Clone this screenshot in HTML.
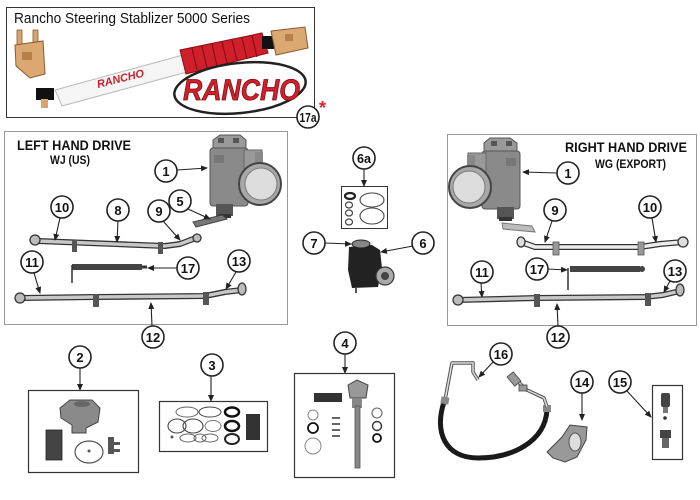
<!DOCTYPE html>
<html><head><meta charset="utf-8"><style>
html,body{margin:0;padding:0;background:#fff;}
svg{display:block;}
text{font-family:"Liberation Sans",Arial,sans-serif;}
.c{fill:#fff;stroke:#222;stroke-width:1.6;}
.n{font-weight:bold;font-size:13px;text-anchor:middle;fill:#111;}
.ar{stroke:#222;stroke-width:1.1;fill:none;marker-end:url(#a);}
.ro{stroke:#333;stroke-width:6;fill:none;stroke-linecap:round;stroke-linejoin:round;}
.ri{stroke:#c8c8c8;stroke-width:3.4;fill:none;stroke-linecap:round;stroke-linejoin:round;}
.riw{stroke:#ececec;stroke-width:3.6;fill:none;stroke-linecap:round;stroke-linejoin:round;}
</style></head><body>
<svg width="700" height="500" viewBox="0 0 700 500" xmlns="http://www.w3.org/2000/svg">
<defs>
<marker id="a" markerWidth="7" markerHeight="6" refX="6" refY="3" orient="auto" markerUnits="userSpaceOnUse"><path d="M0,0 L7,3 L0,6z" fill="#222"/></marker>
<g id="gear">
  <path d="M213,140 L220,135 L240,135 L246,140 L246,150 L213,150z" fill="#9a9a9a" stroke="#555" stroke-width="1"/>
  <rect x="210" y="148" width="38" height="58" rx="3" fill="#8a8a8a" stroke="#555" stroke-width="1"/>
  <rect x="244" y="150" width="18" height="48" fill="#999" stroke="#666" stroke-width="1"/>
  <rect x="255" y="152" width="8" height="14" fill="#888"/>
  <circle cx="260" cy="184" r="21" fill="#a8a8a8" stroke="#444" stroke-width="2"/>
  <circle cx="261" cy="184" r="16" fill="#dcdcdc" stroke="#777" stroke-width="1"/>
  <rect x="216" y="204" width="17" height="12" fill="#555"/>
  <rect x="218" y="214" width="13" height="4" fill="#333"/>
  <rect x="218" y="138" width="6" height="5" fill="#555"/>
  <rect x="233" y="138" width="6" height="5" fill="#555"/>
  <rect x="214" y="155" width="10" height="8" fill="#777"/>
</g>
</defs>

<!-- Top Rancho box -->
<rect x="6.5" y="7.5" width="308" height="110" fill="#fff" stroke="#333" stroke-width="1"/>
<text x="14" y="23" font-size="15" textLength="236" lengthAdjust="spacingAndGlyphs" fill="#111">Rancho Steering Stablizer 5000 Series</text>
<!-- left bracket -->
<rect x="17" y="30" width="5" height="16" fill="#d9a46c" stroke="#8a5a30" stroke-width="0.8"/>
<rect x="33" y="30" width="5" height="16" fill="#d9a46c" stroke="#8a5a30" stroke-width="0.8"/>
<path d="M15,45 L43,41 L45,74 L30,78 L16,66z" fill="#dba872" stroke="#8a5a30" stroke-width="1"/>
<rect x="22" y="52" width="10" height="8" fill="#b77f4a"/>
<!-- left bushing -->
<rect x="36" y="88" width="18" height="12" fill="#111"/>
<rect x="41" y="99" width="7" height="9" fill="#d9a46c"/>
<!-- white body -->
<path d="M55,90 L183,55 L187,72 L62,106z" fill="#f5f5f5" stroke="#bbb" stroke-width="1"/>
<text x="98" y="88" font-size="11" font-weight="bold" font-style="italic" fill="#cc1f2a" transform="rotate(-14 98 88)" textLength="48" lengthAdjust="spacingAndGlyphs">RANCHO</text>
<!-- red boot -->
<path d="M180,50 L262,33 L268,53 L186,74z" fill="#cf1f2b" stroke="#8c0c14" stroke-width="1"/>
<g stroke="#8c0c14" stroke-width="1.2">
<line x1="192" y1="48" x2="197" y2="70"/><line x1="202" y1="46" x2="207" y2="68"/><line x1="212" y1="44" x2="217" y2="66"/><line x1="222" y1="42" x2="227" y2="63"/><line x1="232" y1="40" x2="237" y2="61"/><line x1="242" y1="38" x2="247" y2="59"/><line x1="252" y1="36" x2="257" y2="57"/>
</g>
<rect x="262" y="36" width="12" height="13" fill="#111"/>
<path d="M271,31 L305,27 L308,48 L276,55z" fill="#dba872" stroke="#8a5a30" stroke-width="1"/>
<rect x="285" y="34" width="8" height="7" fill="#b77f4a"/>
<!-- logo -->
<ellipse cx="240" cy="88" rx="66" ry="25" fill="none" stroke="#222" stroke-width="2.5" transform="rotate(-6 240 88)"/>
<text x="183" y="100" font-size="30" font-weight="bold" font-style="italic" fill="#d0202c" stroke="#7a0a10" stroke-width="0.8" textLength="117" lengthAdjust="spacingAndGlyphs">RANCHO</text>
<circle class="c" cx="308" cy="117" r="11"/>
<text class="n" x="308" y="122" font-size="12" textLength="17" lengthAdjust="spacingAndGlyphs">17a</text>
<text x="319" y="114" font-size="18" font-weight="bold" fill="#e0202a">*</text>

<!-- Left hand drive box -->
<rect x="4.5" y="131.5" width="283" height="193" fill="none" stroke="#999" stroke-width="1"/>
<text x="17" y="150" font-size="13.5" font-weight="bold" textLength="114" lengthAdjust="spacingAndGlyphs" fill="#111">LEFT HAND DRIVE</text>
<text x="50" y="164" font-size="12" font-weight="bold" textLength="40" lengthAdjust="spacingAndGlyphs" fill="#111">WJ (US)</text>
<use href="#gear"/>
<!-- pitman arm 5 -->
<path d="M193,222 L222,215 L227,219 L196,227z" fill="#777" stroke="#444" stroke-width="1"/>
<!-- drag link -->
<path class="ro" d="M38,241 L165,246 L180,244 L196,238"/>
<path class="ri" d="M38,241 L165,246 L180,244 L196,238"/>
<ellipse cx="35" cy="240" rx="5" ry="5" fill="#bbb" stroke="#333" stroke-width="1.3"/>
<circle cx="197" cy="238" r="4" fill="#bbb" stroke="#333" stroke-width="1.3"/>
<rect x="72" y="240" width="5" height="12" fill="#555"/>
<rect x="158" y="242" width="5" height="12" fill="#555"/>
<!-- damper -->
<rect x="72" y="264" width="70" height="6" fill="#444"/>
<line x1="142" y1="267" x2="147" y2="267" stroke="#333" stroke-width="3"/>
<line x1="72" y1="265" x2="72" y2="283" stroke="#333" stroke-width="1.5"/>
<!-- tie rod -->
<path class="ro" d="M20,298 L95,297 L205,296 L225,292 L242,290"/>
<path class="ri" d="M20,298 L95,297 L205,296 L225,292 L242,290"/>
<ellipse cx="20" cy="298" rx="5" ry="5" fill="#bbb" stroke="#333" stroke-width="1.3"/>
<ellipse cx="242" cy="289" rx="4" ry="6" fill="#bbb" stroke="#333" stroke-width="1.3"/>
<rect x="93" y="294" width="6" height="13" fill="#555"/>
<rect x="203" y="292" width="6" height="13" fill="#555"/>

<circle class="c" cx="166" cy="171" r="11"/><text class="n" x="166" y="176">1</text>
<line class="ar" x1="177" y1="170" x2="207" y2="168"/>
<circle class="c" cx="62" cy="207" r="11"/><text class="n" x="62" y="212">10</text>
<line class="ar" x1="60" y1="218" x2="55" y2="240"/>
<circle class="c" cx="118" cy="210" r="11"/><text class="n" x="118" y="215">8</text>
<line class="ar" x1="118" y1="221" x2="117" y2="242"/>
<circle class="c" cx="159" cy="211" r="11"/><text class="n" x="159" y="216">9</text>
<line class="ar" x1="163" y1="221" x2="180" y2="240"/>
<circle class="c" cx="180" cy="201" r="11"/><text class="n" x="180" y="206">5</text>
<line class="ar" x1="188" y1="209" x2="210" y2="219"/>
<circle class="c" cx="32" cy="262" r="11"/><text class="n" x="32" y="267">11</text>
<line class="ar" x1="34" y1="273" x2="40" y2="293"/>
<circle class="c" cx="188" cy="268" r="11"/><text class="n" x="188" y="273">17</text>
<line class="ar" x1="177" y1="268" x2="148" y2="268"/>
<circle class="c" cx="239" cy="261" r="11"/><text class="n" x="239" y="266">13</text>
<line class="ar" x1="236" y1="272" x2="226" y2="289"/>
<circle class="c" cx="153" cy="337" r="11"/><text class="n" x="153" y="342">12</text>
<line class="ar" x1="152" y1="326" x2="151" y2="303"/>

<!-- Middle pump -->
<rect x="341.5" y="186.5" width="46" height="42" fill="none" stroke="#333" stroke-width="1"/>
<ellipse cx="350" cy="196" rx="5" ry="3" fill="none" stroke="#222" stroke-width="2.2"/>
<ellipse cx="349" cy="205" rx="3.5" ry="3" fill="none" stroke="#444" stroke-width="1.2"/>
<ellipse cx="349" cy="213" rx="3.5" ry="3" fill="none" stroke="#444" stroke-width="1.2"/>
<ellipse cx="349" cy="222" rx="3.5" ry="3" fill="none" stroke="#444" stroke-width="1.2"/>
<ellipse cx="372" cy="200" rx="12" ry="7" fill="none" stroke="#444" stroke-width="1.1"/>
<ellipse cx="372" cy="216" rx="12" ry="8" fill="none" stroke="#444" stroke-width="1.1"/>
<path d="M349,247 L372,245 L380,250 L382,268 L378,287 L352,288 L348,270z" fill="#222"/>
<ellipse cx="361" cy="244" rx="9" ry="4" fill="#888" stroke="#222" stroke-width="1"/>
<circle cx="385" cy="276" r="9" fill="#aaa" stroke="#333" stroke-width="1.2"/>
<circle cx="385" cy="276" r="4" fill="#444"/>
<line x1="356" y1="288" x2="356" y2="293" stroke="#222" stroke-width="1.5"/>
<circle class="c" cx="364" cy="158" r="11"/><text class="n" x="364" y="163" textLength="14" lengthAdjust="spacingAndGlyphs">6a</text>
<line class="ar" x1="364" y1="169" x2="364" y2="186"/>
<circle class="c" cx="314" cy="243" r="11"/><text class="n" x="314" y="248">7</text>
<line class="ar" x1="325" y1="243" x2="351" y2="244"/>
<circle class="c" cx="423" cy="243" r="11"/><text class="n" x="423" y="248">6</text>
<line class="ar" x1="413" y1="246" x2="381" y2="252"/>

<!-- Right hand drive box -->
<rect x="447.5" y="134.5" width="249" height="191" fill="none" stroke="#999" stroke-width="1"/>
<text x="565" y="152" font-size="13.5" font-weight="bold" textLength="122" lengthAdjust="spacingAndGlyphs" fill="#111">RIGHT HAND DRIVE</text>
<text x="595" y="168" font-size="12" font-weight="bold" textLength="71" lengthAdjust="spacingAndGlyphs" fill="#111">WG (EXPORT)</text>
<g transform="translate(730,3) scale(-1,1)"><use href="#gear"/></g>
<path d="M502,223 L532,226 L535,232 L503,229z" fill="#bdbdbd" stroke="#777" stroke-width="1"/>
<path class="ro" d="M521,242 L535,247 L640,247 L660,244 L683,242"/>
<path class="riw" d="M521,242 L535,247 L640,247 L660,244 L683,242"/>
<ellipse cx="521" cy="242" rx="4" ry="5" fill="#ddd" stroke="#333" stroke-width="1.3"/>
<ellipse cx="683" cy="242" rx="5" ry="5" fill="#ddd" stroke="#333" stroke-width="1.3"/>
<rect x="553" y="242" width="6" height="13" fill="#999" stroke="#555" stroke-width="0.8"/>
<rect x="638" y="242" width="6" height="13" fill="#999" stroke="#555" stroke-width="0.8"/>
<rect x="570" y="266" width="70" height="6" fill="#444"/>
<circle cx="642" cy="269" r="3" fill="#444"/>
<line x1="568" y1="268" x2="568" y2="290" stroke="#333" stroke-width="1.5"/>
<path class="ro" d="M458,300 L537,298 L645,297 L663,295 L680,291"/>
<path class="ri" d="M458,300 L537,298 L645,297 L663,295 L680,291"/>
<ellipse cx="458" cy="300" rx="5" ry="5" fill="#bbb" stroke="#333" stroke-width="1.3"/>
<ellipse cx="680" cy="290" rx="4" ry="6" fill="#bbb" stroke="#333" stroke-width="1.3"/>
<rect x="534" y="294" width="6" height="13" fill="#555"/>
<rect x="645" y="293" width="6" height="13" fill="#555"/>
<circle class="c" cx="568" cy="173" r="11"/><text class="n" x="568" y="178">1</text>
<line class="ar" x1="557" y1="173" x2="523" y2="172"/>
<circle class="c" cx="555" cy="210" r="11"/><text class="n" x="555" y="215">9</text>
<line class="ar" x1="552" y1="221" x2="545" y2="242"/>
<circle class="c" cx="650" cy="207" r="11"/><text class="n" x="650" y="212">10</text>
<line class="ar" x1="652" y1="218" x2="656" y2="242"/>
<circle class="c" cx="537" cy="269" r="11"/><text class="n" x="537" y="274">17</text>
<line class="ar" x1="548" y1="269" x2="567" y2="270"/>
<circle class="c" cx="482" cy="272" r="11"/><text class="n" x="482" y="277">11</text>
<line class="ar" x1="481" y1="283" x2="482" y2="297"/>
<circle class="c" cx="675" cy="271" r="11"/><text class="n" x="675" y="276">13</text>
<line class="ar" x1="670" y1="281" x2="664" y2="292"/>
<circle class="c" cx="558" cy="337" r="11"/><text class="n" x="558" y="342">12</text>
<line class="ar" x1="558" y1="326" x2="557" y2="304"/>

<!-- Bottom: 2 -->
<rect x="28.5" y="390.5" width="110" height="82" fill="none" stroke="#333" stroke-width="1.2"/>
<path d="M60,408 L70,400 L92,400 L100,408 L98,422 L86,428 L86,433 L72,433 L72,425 L61,418z" fill="#8a8a8a" stroke="#444" stroke-width="1"/>
<ellipse cx="82" cy="404" rx="8" ry="3" fill="#666"/>
<rect x="46" y="430" width="16" height="30" fill="#444" stroke="#222" stroke-width="0.8"/>
<ellipse cx="89" cy="452" rx="14" ry="11" fill="none" stroke="#555" stroke-width="1.2"/>
<circle cx="89" cy="451" r="1.5" fill="#555"/>
<rect x="108" y="437" width="6" height="17" fill="#555"/>
<rect x="113" y="442" width="7" height="3" fill="#555"/>
<rect x="113" y="449" width="7" height="3" fill="#555"/>
<circle class="c" cx="80" cy="357" r="11"/><text class="n" x="80" y="362">2</text>
<line class="ar" x1="80" y1="368" x2="80" y2="390"/>

<!-- 3 -->
<rect x="159.5" y="401.5" width="108" height="50" fill="none" stroke="#333" stroke-width="1.2"/>
<ellipse cx="187" cy="412" rx="11" ry="5" fill="none" stroke="#666" stroke-width="1"/>
<ellipse cx="210" cy="412" rx="11" ry="5" fill="none" stroke="#444" stroke-width="1"/>
<ellipse cx="232" cy="412" rx="7" ry="4.5" fill="none" stroke="#111" stroke-width="2.5"/>
<ellipse cx="177" cy="426" rx="9" ry="7" fill="none" stroke="#444" stroke-width="1.1"/>
<ellipse cx="193" cy="426" rx="10" ry="7" fill="none" stroke="#444" stroke-width="1.1"/>
<ellipse cx="213" cy="426" rx="8" ry="5.5" fill="none" stroke="#777" stroke-width="1"/>
<ellipse cx="232" cy="426" rx="7" ry="5" fill="none" stroke="#111" stroke-width="2.5"/>
<ellipse cx="188" cy="438" rx="8" ry="4" fill="none" stroke="#666" stroke-width="1"/>
<ellipse cx="200" cy="438" rx="6" ry="4" fill="none" stroke="#666" stroke-width="1"/>
<ellipse cx="210" cy="438" rx="8" ry="4" fill="none" stroke="#666" stroke-width="1"/>
<ellipse cx="232" cy="439" rx="7" ry="5" fill="none" stroke="#222" stroke-width="2"/>
<circle cx="172" cy="437" r="1.5" fill="#555"/>
<rect x="246" y="414" width="14" height="26" fill="#333"/>
<circle class="c" cx="212" cy="365" r="11"/><text class="n" x="212" y="370">3</text>
<line class="ar" x1="211" y1="376" x2="211" y2="401"/>

<!-- 4 -->
<rect x="294.5" y="373.5" width="100" height="104" fill="none" stroke="#333" stroke-width="1.2"/>
<path d="M348,385 L357,380 L368,385 L366,398 L350,398z" fill="#999" stroke="#444" stroke-width="1"/>
<rect x="352" y="398" width="10" height="10" fill="#888"/>
<rect x="355" y="406" width="5" height="62" fill="#888" stroke="#555" stroke-width="0.8"/>
<rect x="314" y="393" width="28" height="9" fill="#333"/>
<circle cx="313" cy="415" r="5" fill="none" stroke="#888" stroke-width="1"/>
<circle cx="313" cy="428" r="5" fill="none" stroke="#111" stroke-width="1.8"/>
<circle cx="313" cy="446" r="8" fill="none" stroke="#888" stroke-width="1"/>
<g stroke="#333" stroke-width="1.5"><line x1="332" y1="418" x2="340" y2="418"/><line x1="332" y1="424" x2="340" y2="424"/><line x1="332" y1="430" x2="340" y2="430"/><line x1="332" y1="436" x2="340" y2="436"/></g>
<circle cx="377" cy="413" r="5" fill="none" stroke="#666" stroke-width="1.1"/>
<circle cx="377" cy="426" r="4.5" fill="none" stroke="#333" stroke-width="1.4"/>
<circle cx="377" cy="438" r="4" fill="none" stroke="#111" stroke-width="1.8"/>
<circle class="c" cx="345" cy="343" r="11"/><text class="n" x="345" y="348">4</text>
<line class="ar" x1="345" y1="354" x2="345" y2="373"/>

<!-- 16 hose -->
<path d="M478,380 L473,372 L473,363 L452,363 L445,400" fill="none" stroke="#555" stroke-width="3.5" stroke-linejoin="round"/>
<path d="M478,380 L473,372 L473,363 L452,363 L445,400" fill="none" stroke="#ddd" stroke-width="1.5" stroke-linejoin="round"/>
<path d="M444,402 C434,432 445,458 478,458 C512,458 545,442 547,410" fill="none" stroke="#1a1a1a" stroke-width="5"/>
<rect x="441" y="397" width="8" height="7" fill="#888" transform="rotate(10 445 400)"/>
<rect x="543" y="405" width="8" height="7" fill="#888"/>
<path d="M547,407 L544,398 L527,390 L514,378" fill="none" stroke="#555" stroke-width="3.5" stroke-linejoin="round"/>
<path d="M547,407 L544,398 L527,390 L514,378" fill="none" stroke="#ddd" stroke-width="1.5" stroke-linejoin="round"/>
<rect x="510" y="373" width="8" height="12" fill="#999" stroke="#444" stroke-width="0.8" transform="rotate(-40 514 379)"/>
<rect x="519" y="385" width="8" height="6" fill="#999" stroke="#444" stroke-width="0.8"/>
<circle class="c" cx="501" cy="354" r="11"/><text class="n" x="501" y="359">16</text>
<line class="ar" x1="493" y1="362" x2="479" y2="377"/>

<!-- 14 knuckle -->
<path d="M547,452 L562,437 L570,425 L587,427 L586,440 L577,457 L565,462 L553,458z" fill="#999" stroke="#444" stroke-width="1"/>
<ellipse cx="575" cy="442" rx="6" ry="9" fill="#ddd" stroke="#555" stroke-width="1"/>
<circle class="c" cx="582" cy="382" r="11"/><text class="n" x="582" y="387">14</text>
<line class="ar" x1="582" y1="393" x2="582" y2="420"/>

<!-- 15 -->
<rect x="652.5" y="385.5" width="30" height="74" fill="none" stroke="#333" stroke-width="1.2"/>
<rect x="661" y="393" width="9" height="14" rx="2" fill="#444"/>
<rect x="663" y="407" width="5" height="6" fill="#777"/>
<circle cx="665" cy="418" r="1.8" fill="#333"/>
<rect x="660" y="430" width="11" height="8" fill="#444"/>
<rect x="662" y="438" width="7" height="10" fill="#666"/>
<circle class="c" cx="620" cy="382" r="11"/><text class="n" x="620" y="387">15</text>
<line class="ar" x1="627" y1="391" x2="651" y2="417"/>
</svg>
</body></html>
